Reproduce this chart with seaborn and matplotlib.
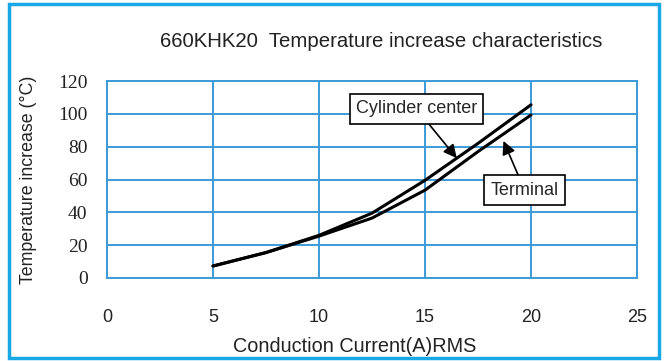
import numpy as np
import pandas as pd
import matplotlib
matplotlib.use("Agg")
import matplotlib.pyplot as plt
import seaborn as sns

current = [5, 7.5, 10, 12.5, 15, 17.5, 20]
cylinder_center = [7.3, 15.5, 26, 39.5, 59.5, 82, 105.5]
terminal = [7.3, 15.5, 25.5, 36.5, 53.5, 77, 99.3]

x_ticks = [0, 5, 10, 15, 20, 25]
y_ticks = [0, 20, 40, 60, 80, 100, 120]

df = pd.DataFrame({
    "current": current * 2,
    "temp": cylinder_center + terminal,
    "series": ["Cylinder center"] * len(current) + ["Terminal"] * len(current),
})

sns.set_style("white")
plt.rcParams["font.family"] = ["Liberation Sans", "DejaVu Sans"]

grid_col = "#3c9ad6"

fig = plt.figure(figsize=(6.65, 3.61), dpi=100)
ax = fig.add_axes([107 / 665, 1 - 278 / 361, 530 / 665, 197 / 361])

sns.lineplot(data=df, x="current", y="temp", hue="series",
             palette=["black", "black"], linewidth=2.2, legend=False, ax=ax)

ax.set_xlim(0, 25)
ax.set_ylim(0, 120)
ax.set_xticks(x_ticks)
ax.set_yticks(y_ticks)
ax.grid(True, color=grid_col, linewidth=1.4)
ax.set_axisbelow(True)
for s in ax.spines.values():
    s.set_color(grid_col)
    s.set_linewidth(1.4)
ax.tick_params(length=0, labelsize=13, colors="#222222")
ax.tick_params(axis="x", pad=22)
ax.tick_params(axis="y", pad=14)
for lab in ax.get_yticklabels():
    lab.set_fontfamily("Liberation Serif")
    lab.set_fontsize(14)

ax.set_xlabel("Conduction Current(A)RMS", fontsize=14.3, color="#222222")
ax.xaxis.set_label_coords(0.468, -0.30)
ax.set_ylabel("Temperature increase (°C)", fontsize=12.8, color="#222222")
ax.yaxis.set_label_coords(-0.133, 0.5)

fig.text(0.573, 0.884, "660KHK20  Temperature increase characteristics",
         ha="center", va="center", fontsize=14.7, color="#222222")

box = dict(boxstyle="square,pad=0.35", fc="white", ec="black", lw=1.2)
arrow = dict(arrowstyle="-|>", color="black", lw=1.2, mutation_scale=20,
             shrinkA=0, shrinkB=0)
ax.annotate("Cylinder center", xy=(16.5, 73), xytext=(14.6, 103),
            ha="center", va="center", fontsize=13, bbox=box, arrowprops=arrow)
ax.annotate("Terminal", xy=(18.7, 83.5), xytext=(19.7, 53.5),
            ha="center", va="center", fontsize=13, bbox=box, arrowprops=arrow)

fig.patches.append(plt.Rectangle((9 / 665, 3 / 361), 650 / 665, 354 / 361,
                                 transform=fig.transFigure, fill=False,
                                 ec="#18a8e6", lw=2.5))

fig.savefig("out.png", dpi=100)
